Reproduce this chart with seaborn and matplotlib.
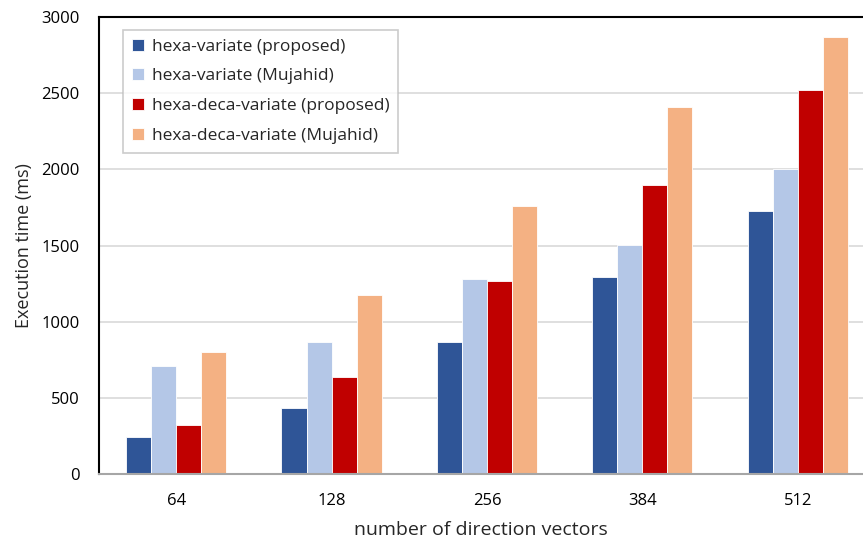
import matplotlib
matplotlib.use("Agg")
import matplotlib.pyplot as plt
import seaborn as sns
import pandas as pd

categories = ["64", "128", "256", "384", "512"]
series_names = [
    "hexa-variate (proposed)",
    "hexa-variate (Mujahid)",
    "hexa-deca-variate (proposed)",
    "hexa-deca-variate (Mujahid)",
]
hexa_proposed = [241, 434, 865, 1294, 1729]
hexa_mujahid = [707, 869, 1281, 1501, 2000]
hexadeca_proposed = [323, 635, 1265, 1900, 2523]
hexadeca_mujahid = [799, 1176, 1762, 2409, 2866]
colors = ["#2F5597", "#B4C7E7", "#C00000", "#F4B183"]
y_ticks = [0, 500, 1000, 1500, 2000, 2500, 3000]

rows = []
for name, vals in zip(series_names, [hexa_proposed, hexa_mujahid, hexadeca_proposed, hexadeca_mujahid]):
    for cat, v in zip(categories, vals):
        rows.append({"vectors": cat, "series": name, "time": v})
df = pd.DataFrame(rows)

sns.set_theme(style="white")
plt.rcParams["font.family"] = ["Open Sans", "DejaVu Sans"]

fig = plt.figure(figsize=(8.63, 5.41), dpi=100)
ax = fig.add_axes([0.1147, 0.1238, 0.8853, 0.8448])

sns.barplot(data=df, x="vectors", y="time", hue="series", order=categories,
            hue_order=series_names, palette=colors, width=0.645, gap=0,
            edgecolor="white", linewidth=0.6, saturation=1, ax=ax, legend=True)

ax.set_ylim(0, 3000)
ax.set_xlim(-0.497, 4.42)
ax.set_yticks(y_ticks)
ax.yaxis.grid(True, color="#D9D9D9", linewidth=1.2)
ax.set_axisbelow(True)

for side in ["left", "top"]:
    ax.spines[side].set_color("black")
    ax.spines[side].set_linewidth(1.5)
ax.spines["right"].set_visible(False)
ax.spines["bottom"].set_color("#A6A6A6")
ax.spines["bottom"].set_linewidth(1.5)

ax.tick_params(axis="y", length=0, pad=14, labelsize=12, labelcolor="#000000")
ax.tick_params(axis="x", length=0, pad=14, labelsize=12, labelcolor="#000000")

ax.set_xlabel("number of direction vectors", fontsize=14, labelpad=8)
ax.set_ylabel("Execution time (ms)", fontsize=13, labelpad=6)

leg = ax.legend(loc="upper left", bbox_to_anchor=(0.0314, 0.9716), borderaxespad=0,
                fontsize=12.5, frameon=True, fancybox=False, edgecolor="#BFBFBF",
                handlelength=0.7, handleheight=0.7, handletextpad=0.45,
                labelspacing=0.78, borderpad=0.5)
leg.get_frame().set_linewidth(1.2)

fig.savefig("out.png", dpi=100)
